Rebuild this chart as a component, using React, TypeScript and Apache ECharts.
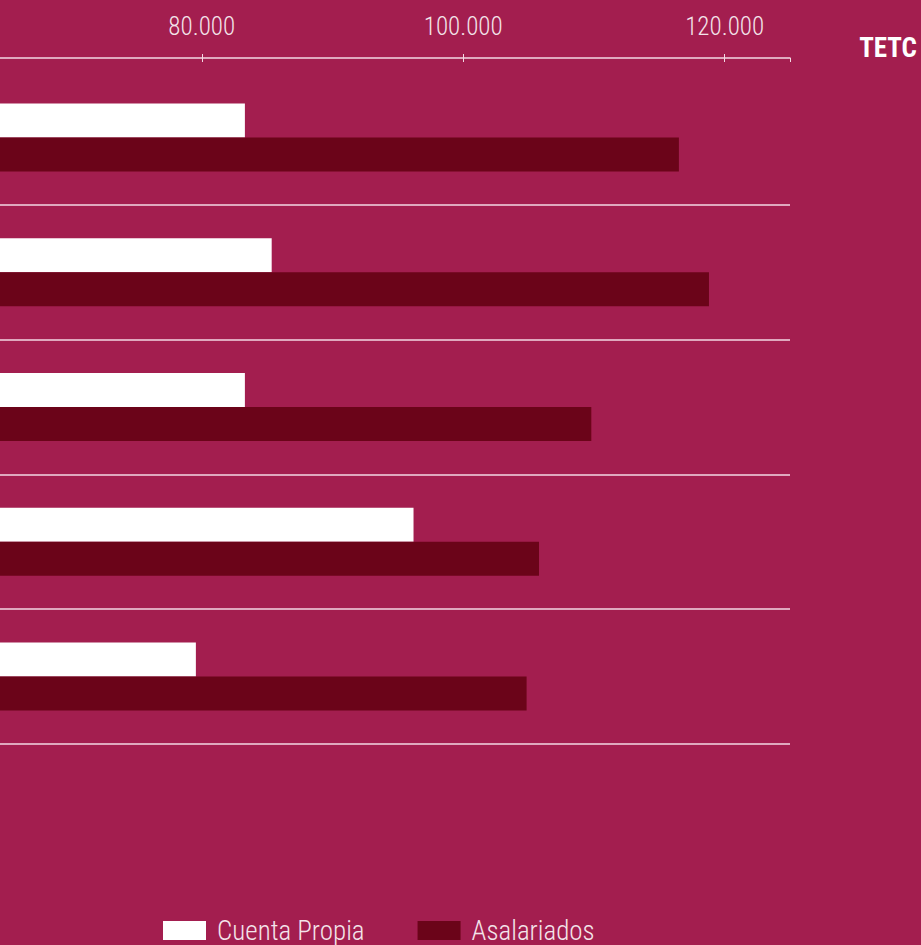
import React, { useEffect, useRef } from "react";
import * as echarts from "echarts";

const categories = ["1", "2", "3", "4", "5"];
const cuentaPropia = [83300, 85350, 83300, 96200, 79550];
const asalariados = [116500, 118800, 109800, 105800, 104850];
const seriesNames = ["Cuenta Propia", "Asalariados"];
const titleText = "TETC";
const firstVisibleTick = 80000;

const NARROW = "'Roboto Condensed', 'DejaVu Sans Condensed', 'Roboto', sans-serif";

function fmt(v: number): string {
  return String(v).replace(/\B(?=(\d{3})+(?!\d))/g, ".");
}

export default function App() {
  const ref = useRef<HTMLDivElement>(null);
  useEffect(() => {
    if (!ref.current) return;
    const chart = echarts.init(ref.current, undefined, { renderer: "svg" });
    const bg = "#a31e4f";
    const dark = "#6b0419";
    const lineCol = "#f3d9e3";
    const xCommon = {
      type: "value" as const,
      min: 0,
      max: 125000,
      interval: 20000,
      position: "top" as const,
      offset: 12,
      splitLine: { show: false },
    };
    chart.setOption({
      animation: false,
      backgroundColor: bg,
      title: {
        text: titleText,
        right: 4,
        top: 34,
        padding: 0,
        textStyle: { color: "#ffffff", fontFamily: NARROW, fontWeight: "bold", fontSize: 27 },
      },
      grid: { left: -844, right: 131, top: 70, bottom: 201, containLabel: false, outerBoundsMode: "none" },
      legend: {
        data: seriesNames,
        left: 163,
        top: 917,
        itemWidth: 43,
        itemHeight: 19,
        itemGap: 53,
        icon: "rect",
        padding: 0,
        textStyle: {
          color: "#f3e4ea",
          fontFamily: NARROW,
          fontWeight: 300,
          fontSize: 27,
          lineHeight: 27,
          padding: [0, 0, 0, 6],
        },
      },
      xAxis: [
        {
          ...xCommon,
          axisLine: { show: true, lineStyle: { color: lineCol, width: 1.5 } },
          axisTick: { show: true, length: 4, lineStyle: { color: lineCol, width: 1 } },
          axisLabel: {
            show: true,
            margin: 19,
            color: "#f3e4ea",
            fontFamily: NARROW,
            fontWeight: 300,
            fontSize: 25,
            formatter: (v: number) => (v >= firstVisibleTick ? fmt(v) : ""),
          },
        },
        {
          ...xCommon,
          axisLine: { show: false },
          axisTick: { show: true, inside: true, length: 4, lineStyle: { color: lineCol, width: 1 } },
          axisLabel: { show: false },
        },
      ],
      yAxis: {
        type: "category",
        data: categories,
        inverse: true,
        axisLine: { show: false },
        axisTick: { show: false },
        axisLabel: { show: false },
        splitLine: {
          show: true,
          lineStyle: {
            color: ["rgba(0,0,0,0)", lineCol, lineCol, lineCol, lineCol, lineCol],
            width: 1.5,
          },
        },
      },
      series: [
        {
          name: seriesNames[0],
          type: "bar",
          data: cuentaPropia,
          barWidth: 34,
          barGap: "0%",
          itemStyle: { color: "#ffffff" },
        },
        {
          name: seriesNames[1],
          type: "bar",
          data: asalariados,
          barWidth: 34,
          barGap: "0%",
          itemStyle: { color: dark },
        },
      ],
    });
    return () => chart.dispose();
  }, []);
  return (
    <div
      ref={ref}
      style={{ position: "fixed", left: 0, top: 0, width: 921, height: 945 }}
    />
  );
}
